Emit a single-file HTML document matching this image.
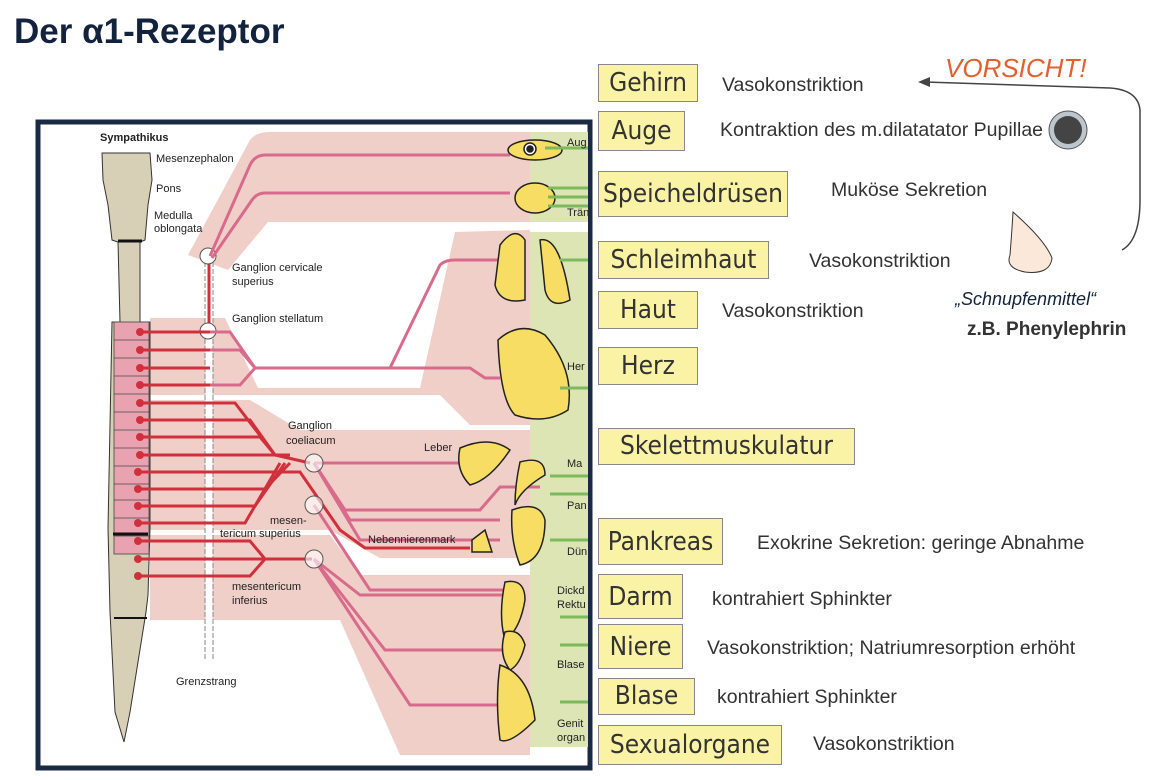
<!DOCTYPE html>
<html><head><meta charset="utf-8"><style>
body{margin:0;width:1176px;height:780px;background:#fff;position:relative;overflow:hidden;font-family:"Liberation Sans",sans-serif}
.t{position:absolute;left:14px;top:12px;font-size:35px;font-weight:bold;color:#14233d}
.b{position:absolute;left:598px;background:#faf3a6;border:1.5px solid #888;box-sizing:border-box;font-family:"DejaVu Sans Condensed","DejaVu Sans",sans-serif;font-stretch:condensed;font-size:26px;color:#333;text-align:center;line-height:1;white-space:nowrap}
.d{position:absolute;font-size:19.5px;color:#333;white-space:nowrap}
</style></head><body>
<div class="t">Der α1-Rezeptor</div>
<svg width="1176" height="780" style="position:absolute;left:0;top:0" font-family="Liberation Sans, sans-serif">
<rect x="38" y="122" width="552" height="646" fill="#fff" stroke="#1a2a44" stroke-width="5"/>
<rect x="530" y="222" width="58" height="525" fill="#dde5b4"/>
<rect x="530" y="132" width="58" height="90" fill="#dde5b4"/>
<g fill="#f0cfc8">
<path d="M188 255 L250 140 Q256 132 270 132 L530 132 L530 222 L268 222 L228 270 Z"/>
<path d="M150 318 L225 318 L258 388 L420 388 L455 232 L530 230 L530 425 L470 425 L440 395 L150 395 Z"/>
<path d="M150 400 L250 400 L300 430 L530 430 L530 558 L380 558 L330 530 L150 530 Z"/>
<path d="M150 535 L330 535 L360 575 L530 575 L530 755 L400 755 L340 620 L150 620 Z"/>
</g>
<rect x="530" y="222" width="58" height="10" fill="#fff"/>
<path d="M102 153 L150 153 L152 180 L148 205 L145 240 L140 242 L140 322 L150 322 L150 528 L148 595 L146 612 L130 712 L124 742 L115 712 L110 612 L108 528 L112 322 L120 322 L118 242 L112 240 L108 205 L103 180 Z" fill="#d7cfb6" stroke="#333"/>
<rect x="114" y="322" width="35" height="232" fill="#e9a3b0" stroke="#444" stroke-width=".8"/>
<g stroke="#444" stroke-width=".8">
<line x1="114" y1="340" x2="149" y2="340"/><line x1="114" y1="358" x2="149" y2="358"/><line x1="114" y1="376" x2="149" y2="376"/><line x1="114" y1="394" x2="149" y2="394"/><line x1="114" y1="412" x2="149" y2="412"/><line x1="114" y1="430" x2="149" y2="430"/><line x1="114" y1="448" x2="149" y2="448"/><line x1="114" y1="466" x2="149" y2="466"/><line x1="114" y1="484" x2="149" y2="484"/><line x1="114" y1="500" x2="149" y2="500"/><line x1="114" y1="518" x2="149" y2="518"/><line x1="114" y1="536" x2="149" y2="536"/>
</g>
<line x1="118" y1="241" x2="142" y2="241" stroke="#111" stroke-width="3"/>
<line x1="113" y1="534" x2="148" y2="534" stroke="#111" stroke-width="3"/>
<line x1="114" y1="618" x2="147" y2="618" stroke="#111" stroke-width="2"/>
<line x1="209" y1="262" x2="209" y2="660" stroke="#888" stroke-width="9" stroke-dasharray="5 2"/>
<line x1="209" y1="262" x2="209" y2="660" stroke="#fff" stroke-width="7"/>
<line x1="209" y1="258" x2="209" y2="325" stroke="#d0303c" stroke-width="3"/>
<circle cx="208" cy="256" r="8" fill="#fff" stroke="#555"/>
<circle cx="208" cy="331" r="8" fill="#fff" stroke="#555"/>
<g stroke="#d0303c" stroke-width="3" fill="none">
<path d="M140 332 H210"/><path d="M140 350 H210"/><path d="M140 368 H210"/><path d="M140 385 H210"/>
<path d="M140 403 H235 L275 455 L310 463"/><path d="M140 420 H250 L275 455"/><path d="M140 437 H260 L275 455"/><path d="M140 455 H290"/>
<path d="M140 472 H300 L340 530 L365 548 H470"/><path d="M140 489 H265 L290 463"/><path d="M140 506 H255 L285 463"/><path d="M140 523 H245 L280 463"/>
<path d="M140 541 H250 L265 559 H312"/><path d="M140 559 H312"/><path d="M140 576 H250 L265 559"/>
</g>
<g fill="#d0303c"><circle cx="140" cy="332" r="4"/><circle cx="140" cy="350" r="4"/><circle cx="140" cy="368" r="4"/><circle cx="140" cy="385" r="4"/><circle cx="140" cy="403" r="4"/><circle cx="140" cy="420" r="4"/><circle cx="140" cy="437" r="4"/><circle cx="140" cy="455" r="4"/><circle cx="138" cy="472" r="4"/><circle cx="138" cy="489" r="4"/><circle cx="138" cy="506" r="4"/><circle cx="138" cy="523" r="4"/><circle cx="138" cy="541" r="4"/><circle cx="138" cy="559" r="4"/><circle cx="138" cy="576" r="4"/></g>
<g stroke="#d86b8c" stroke-width="3" fill="none">
<path d="M210 256 L250 165 Q255 155 265 155 H510"/><path d="M212 258 L252 200 Q257 193 265 193 H510"/>
<path d="M210 332 H230 L255 368 H390 L440 265 Q445 260 455 260 H500"/>
<path d="M210 350 H240 L255 368"/><path d="M210 385 H240 L255 368 H470 L485 378 H500"/>
<path d="M314 463 H470"/><path d="M314 463 L345 510 H480 L500 487 H540"/>
<path d="M314 463 L350 520 H500"/><path d="M314 463 L360 540 H500"/>
<path d="M314 505 L370 590 H510"/><path d="M314 559 L360 595 H510"/>
<path d="M314 559 L385 650 H505"/><path d="M314 559 L410 705 H505"/>
</g>
<circle cx="314" cy="463" r="9" fill="#fff" stroke="#555" fill-opacity=".6"/>
<circle cx="314" cy="505" r="9" fill="#fff" stroke="#555" fill-opacity=".6"/>
<circle cx="314" cy="559" r="9" fill="#fff" stroke="#555" fill-opacity=".6"/>
<g fill="#f7dd63" stroke="#222" stroke-width="1.5">
<ellipse cx="535" cy="150" rx="27" ry="10"/><circle cx="530" cy="149" r="6" fill="#fff"/><circle cx="530" cy="149" r="3" fill="#222"/>
<ellipse cx="535" cy="198" rx="20" ry="15"/>
<path d="M500 245 Q515 225 525 240 L525 300 Q500 305 495 285 Z"/><path d="M540 240 Q560 235 570 300 Q550 310 545 290 Z"/>
<path d="M498 340 Q520 320 545 335 Q575 370 568 410 Q545 425 515 415 Q500 400 498 340Z"/>
<path d="M460 448 Q490 435 510 450 Q490 480 470 485 Q455 470 460 448Z"/>
<path d="M520 462 Q545 455 545 475 Q520 490 515 505 Q515 485 520 462Z"/>
<path d="M512 510 Q540 500 545 520 Q545 560 520 565 Q510 540 512 510Z"/>
<path d="M472 540 L485 530 L492 552 L472 552Z"/>
<path d="M505 582 Q525 578 525 600 Q520 630 505 640 Q498 615 505 582Z"/>
<path d="M505 632 Q520 628 525 645 Q520 665 510 670 Q498 655 505 632Z"/>
<path d="M500 665 Q530 675 535 720 Q510 745 500 740 Q495 700 500 665Z"/>
</g>
<g stroke="#7cba5c" stroke-width="3"><line x1="545" y1="148" x2="588" y2="148"/><line x1="548" y1="188" x2="588" y2="188"/><line x1="548" y1="197" x2="588" y2="197"/><line x1="548" y1="206" x2="588" y2="206"/><line x1="560" y1="260" x2="588" y2="260"/><line x1="560" y1="388" x2="588" y2="388"/><line x1="550" y1="476" x2="588" y2="476"/><line x1="550" y1="494" x2="588" y2="494"/><line x1="550" y1="540" x2="588" y2="540"/><line x1="560" y1="617" x2="588" y2="617"/><line x1="560" y1="645" x2="588" y2="645"/><line x1="560" y1="702" x2="588" y2="702"/></g>
<g font-size="11" fill="#222">
<text x="100" y="141" font-weight="bold">Sympathikus</text>
<text x="156" y="162">Mesenzephalon</text><text x="156" y="192">Pons</text>
<text x="154" y="219">Medulla</text><text x="154" y="232">oblongata</text>
<text x="232" y="271">Ganglion cervicale</text><text x="232" y="285">superius</text>
<text x="232" y="322">Ganglion stellatum</text>
<text x="288" y="429">Ganglion</text><text x="286" y="444">coeliacum</text>
<text x="424" y="451">Leber</text>
<text x="270" y="524">mesen-</text><text x="220" y="537">tericum superius</text>
<text x="368" y="543">Nebennierenmark</text>
<text x="232" y="590">mesentericum</text><text x="232" y="604">inferius</text>
<text x="176" y="685">Grenzstrang</text>
<text x="567" y="146">Aug</text><text x="567" y="216">Trän</text><text x="567" y="370">Her</text>
<text x="567" y="467">Ma</text><text x="567" y="509">Pan</text><text x="567" y="555">Dün</text>
<text x="557" y="594">Dickd</text><text x="557" y="608">Rektu</text><text x="557" y="668">Blase</text>
<text x="557" y="727">Genit</text><text x="557" y="741">organ</text>
</g>
<text x="945" y="77" font-size="26" font-style="italic" fill="#e06030">VORSICHT!</text>
<path d="M1122 250 Q1140 240 1140 200 L1140 110 Q1138 90 1110 88 L925 82" fill="none" stroke="#444" stroke-width="1.5"/>
<path d="M918 82 L930 77 L930 87 Z" fill="#444"/>
<circle cx="1068" cy="130" r="19" fill="#bcc6cc" stroke="#555"/><circle cx="1068" cy="130" r="14" fill="#444"/>
<path d="M1013 212 Q1045 240 1052 258 Q1050 275 1025 272 Q1005 268 1010 255 Q1012 230 1013 212Z" fill="#fbe8d8" stroke="#333"/>
<text x="955" y="305" font-size="18" font-style="italic" fill="#14233d">„Schnupfenmittel“</text>
<text x="967" y="335" font-size="19" font-weight="bold" fill="#333">z.B. Phenylephrin</text>
</svg>
<div class="b" style="top:64px;width:100px;height:38px;padding-top:5px">Gehirn</div>
<div class="b" style="top:111px;width:87px;height:40px;padding-top:6px">Auge</div>
<div class="b" style="top:171px;width:190px;height:46px;padding-top:9px">Speicheldrüsen</div>
<div class="b" style="top:241px;width:171px;height:38px;padding-top:5px">Schleimhaut</div>
<div class="b" style="top:291px;width:100px;height:38px;padding-top:5px">Haut</div>
<div class="b" style="top:347px;width:100px;height:38px;padding-top:5px">Herz</div>
<div class="b" style="top:428px;width:257px;height:37px;padding-top:4px">Skelettmuskulatur</div>
<div class="b" style="top:518px;width:125px;height:47px;padding-top:10px">Pankreas</div>
<div class="b" style="top:574px;width:85px;height:45px;padding-top:9px">Darm</div>
<div class="b" style="top:624px;width:85px;height:45px;padding-top:9px">Niere</div>
<div class="b" style="top:678px;width:97px;height:37px;padding-top:4px">Blase</div>
<div class="b" style="top:725px;width:184px;height:40px;padding-top:6px">Sexualorgane</div>
<div class="d" style="left:722px;top:74px">Vasokonstriktion</div>
<div class="d" style="left:720px;top:119px">Kontraktion des m.dilatatator Pupillae</div>
<div class="d" style="left:831px;top:179px">Muköse Sekretion</div>
<div class="d" style="left:809px;top:250px">Vasokonstriktion</div>
<div class="d" style="left:722px;top:300px">Vasokonstriktion</div>
<div class="d" style="left:757px;top:532px">Exokrine Sekretion: geringe Abnahme</div>
<div class="d" style="left:712px;top:588px">kontrahiert Sphinkter</div>
<div class="d" style="left:707px;top:637px">Vasokonstriktion; Natriumresorption erhöht</div>
<div class="d" style="left:717px;top:686px">kontrahiert Sphinkter</div>
<div class="d" style="left:813px;top:733px">Vasokonstriktion</div>
</body></html>
